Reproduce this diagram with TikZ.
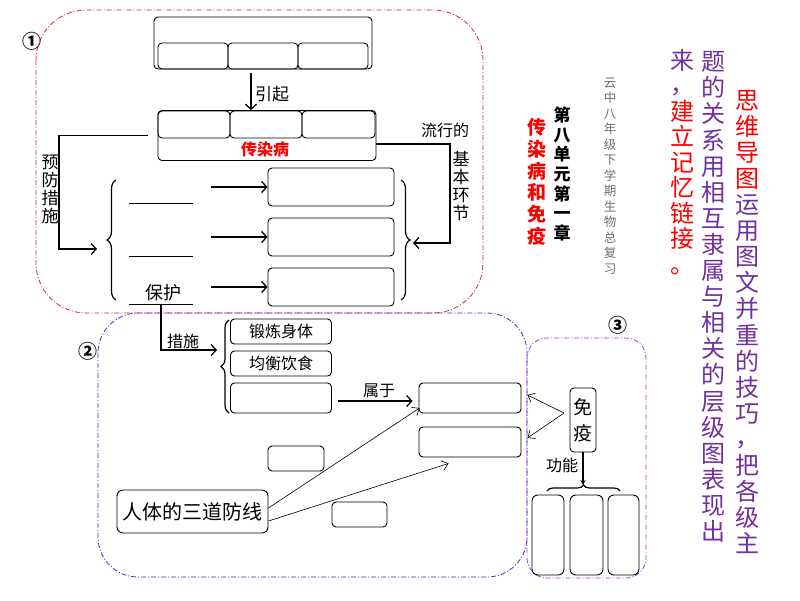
\documentclass[tikz,border=0pt]{standalone}
\usepackage{fontspec}
\setmainfont{Noto Sans CJK SC}
\usetikzlibrary{arrows.meta,decorations.pathreplacing}
\definecolor{tpurple}{RGB}{112,48,160}
\definecolor{rred}{RGB}{210,40,50}
\definecolor{rblue}{RGB}{60,50,200}
\definecolor{rpurp}{RGB}{160,60,210}
\definecolor{tgray}{RGB}{110,110,110}
\newcommand{\rd}[1]{\textcolor{red}{#1}}
\newcommand{\pp}[1]{\textcolor{tpurple}{#1}}
\newcommand{\vcomma}[1]{\raisebox{#1}{\textcolor{tpurple}{，}}}
\begin{document}
\begin{tikzpicture}[x=1pt,y=-1pt,
  box/.style={draw, rounded corners=4pt, line width=0.9pt, inner sep=0pt},
  arr/.style={line width=1.4pt, -{Straight Barb[length=5pt,width=11pt,line width=1.3pt]}},
  thinarr/.style={line width=0.6pt, -{Straight Barb[length=6pt,width=10pt,line width=0.6pt]}},
  lab/.style={inner sep=0pt, font=\fontsize{16}{16}\selectfont},
  numlab/.style={inner sep=0pt, font=\fontsize{19}{19}\selectfont\bfseries},
  vlab/.style={inner sep=0pt, align=center},
  brc/.style={decorate, decoration={brace, amplitude=#1}, line width=1.2pt},
  brc/.default=9pt,
  region/.style={dash pattern=on 5pt off 2pt on 1pt off 2pt, line width=0.8pt},
  blank/.style={line width=0.6pt}
]
\useasboundingbox (0,0) rectangle (800,600);

% regions
\draw[region, rred, rounded corners=50pt] (36,10) rectangle (483,313);
\draw[region, rblue, rounded corners=40pt] (98,313) rectangle (527,577);
\draw[region, rpurp, rounded corners=20pt] (527,338) rectangle (646,578);
\node[numlab] (n1) at (32,41) {①};
\node[numlab] (n2) at (88,351) {②};
\node[numlab] (n3) at (618,325) {③};

% top box
\node[box, minimum width=218pt, minimum height=52pt] (top) at (263,43) {};
\node[box, minimum width=70pt, minimum height=26pt] (t1) at (193,56) {};
\node[box, minimum width=70pt, minimum height=26pt] (t2) at (263,56) {};
\node[box, minimum width=70pt, minimum height=26pt] (t3) at (333,56) {};

% infectious disease box
\node[box, minimum width=218pt, minimum height=50pt] (cb) at (267,135.5) {};
\node[box, minimum width=72pt, minimum height=27pt] (c1) at (194,124.5) {};
\node[box, minimum width=72pt, minimum height=27pt] (c2) at (266,124.5) {};
\node[box, minimum width=73pt, minimum height=27pt] (c3) at (338.5,124.5) {};
\node[inner sep=0pt, text=red, font=\fontsize{16}{16}\selectfont\bfseries] (cbt) at (265,149) {传染病};

\draw[arr, shorten <=4pt] ([xshift=-12pt]top.south) -- ([xshift=-16pt]cb.north);
\node[lab, anchor=west, font=\fontsize{17}{17}\selectfont] (yq) at (255,94) {引起};

% left connector
\coordinate (lbt) at (97,249);
\draw[arr] ([xshift=-10pt]cb.west) -- (59,135.5) -- (59,249) -- (lbt);
\node[vlab, font=\fontsize{17}{18}\selectfont] (yf) at (50,189) {预\\防\\措\\施};
\draw[brc] (116,300) -- (116,180);

% right connector
\coordinate (rbt) at (413,243);
\draw[arr] ([yshift=-8.5pt]cb.east) -- (450,144) -- (450,243) -- (rbt);
\node[lab] (lx) at (445,130) {流行的};
\node[vlab, font=\fontsize{17}{18}\selectfont] (jb) at (461,186) {基\\本\\环\\节};
\draw[brc] (401,180) -- (401,300);

% blank lines
\draw[blank] (129,203) -- (193,203);
\draw[blank] (129,256) -- (193,256);
\draw[blank] (129,304) -- (193,304);
\node[inner sep=0pt, font=\fontsize{18}{18}\selectfont] (bh) at (163,293) {保护};

% right boxes
\node[box, minimum width=126pt, minimum height=38pt] (r1) at (331,187) {};
\node[box, minimum width=126pt, minimum height=38pt] (r2) at (331,237) {};
\node[box, minimum width=126pt, minimum height=38pt] (r3) at (331,287) {};
\coordinate (a1) at (211,187);
\coordinate (a2) at (211,237);
\coordinate (a3) at (211,287);
\draw[arr] (a1) -- (r1.west);
\draw[arr] (a2) -- (r2.west);
\draw[arr] (a3) -- (r3.west);

% measures
\coordinate (bhb) at (161,304);
\draw[arr] (bhb) -- (161,350) -- (217,350);
\node[lab] (cs) at (183,341) {措施};
\draw[brc=8pt] (229,413) -- (229,320);
\node[box, minimum width=101pt, minimum height=25pt, font=\fontsize{16}{16}\selectfont] (b1) at (281,331.5) {锻炼身体};
\node[box, minimum width=101pt, minimum height=25pt, font=\fontsize{16}{16}\selectfont] (b2) at (281,363.5) {均衡饮食};
\node[box, minimum width=101pt, minimum height=30pt] (b3) at (281,398) {};

\node[box, minimum width=102pt, minimum height=30pt] (rb1) at (470,398) {};
\node[box, minimum width=102pt, minimum height=30pt] (rb2) at (470,442) {};
\draw[arr, shorten <=6pt, shorten >=6pt] ([yshift=-3pt]b3.east) -- ([yshift=-3pt]rb1.west);
\node[lab] (sy) at (379,391) {属于};

\node[box, minimum width=56pt, minimum height=25pt] (s1) at (296,458.5) {};
\node[box, minimum width=55pt, minimum height=25pt] (s2) at (359.5,514.5) {};
\node[box, rounded corners=6pt, minimum width=151pt, minimum height=43pt, font=\fontsize{20}{20}\selectfont] (rt) at (192.5,511.5) {人体的三道防线};
\draw[thinarr] ([yshift=3.5pt]rt.east) -- ([xshift=1pt,yshift=-10pt]rb1.west);
\draw[thinarr] ([yshift=-9.5pt]rt.east) -- ([xshift=30pt,yshift=-6pt]rb2.south west);

% immunity
\node[box, minimum width=26pt, minimum height=64pt, align=center, font=\fontsize{19}{26}\selectfont] (mi) at (583,420) {免\\疫};
\coordinate (mv) at (564,413);
\draw[thinarr] (mv) -- ([xshift=6pt,yshift=3pt]rb1.east);
\draw[thinarr] (mv) -- ([xshift=6pt,yshift=4pt]rb2.east);
\node[lab] (gn) at (562,465) {功能};
\draw[line width=1.2pt, -{Stealth[length=5pt,width=5pt]}] (mi.south) -- (583,485);
\draw[brc=6pt] (547,491) -- (620,491);
\node[box, rounded corners=6pt, minimum width=32pt, minimum height=80pt] (f1) at (548,535) {};
\node[box, rounded corners=6pt, minimum width=33pt, minimum height=80pt] (f2) at (586.5,535) {};
\node[box, rounded corners=6pt, minimum width=31pt, minimum height=80pt] (f3) at (623.5,535) {};

% titles
\node[vlab, font=\fontsize{17}{19.6}\selectfont\bfseries] (tt1) at (562,174) {第\\八\\单\\元\\第\\一\\章};
\node[vlab, text=red, font=\fontsize{19}{21.7}\selectfont\bfseries] (tt2) at (537,182) {传\\染\\病\\和\\免\\疫};
\node[vlab, text=tgray, font=\fontsize{12.5}{15.5}\selectfont] (tt3) at (610,176) {云\\中\\八\\年\\级\\下\\学\\期\\生\\物\\总\\复\\习};

% right explanation
\node[vlab, font=\fontsize{24}{26.1}\selectfont] (e1) at (747,322) {\rd{思}\\\rd{维}\\\rd{导}\\\rd{图}\\\pp{运}\\\pp{用}\\\pp{图}\\\pp{文}\\\pp{并}\\\pp{重}\\\pp{的}\\\pp{技}\\\pp{巧}\\\vcomma{2pt}\\\pp{把}\\\pp{各}\\\pp{级}\\\pp{主}};
\node[vlab, text=tpurple, font=\fontsize{24}{26.1}\selectfont] (e2) at (713,297) {题\\的\\关\\系\\用\\相\\互\\隶\\属\\与\\相\\关\\的\\层\\级\\图\\表\\现\\出};
\node[vlab, font=\fontsize{24}{25.5}\selectfont] (e3) at (682,162) {\pp{来}\\\vcomma{1pt}\\\rd{建}\\\rd{立}\\\rd{记}\\\rd{忆}\\\rd{链}\\\rd{接}\\\rd{。}};
\end{tikzpicture}
\end{document}
